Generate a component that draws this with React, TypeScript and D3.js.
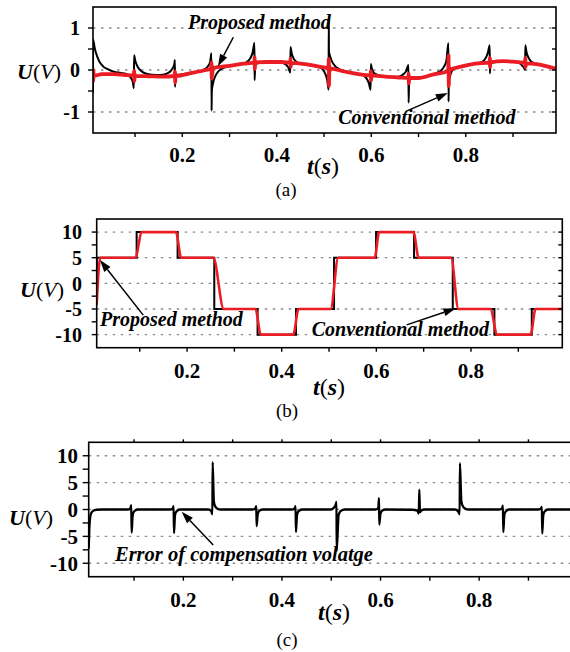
import React from 'react';
import * as d3 from 'd3';

type Pt = [number, number];

const RED = '#ec1c24';
const SERIF = '"Liberation Serif", "Times New Roman", Times, serif';

// shared time axis (s)
const timeTicks = [0.1, 0.2, 0.3, 0.4, 0.5, 0.6, 0.7, 0.8, 0.9];
const timeLabels = [0.2, 0.4, 0.6, 0.8];

// ---------- (a) voltage ripple, conventional vs proposed ----------
const voltTicksA = [-1, -0.5, 0, 0.5, 1];
const voltLabelsA = [-1, 0, 1];
const voltGridA = [-1, 0, 1];

const conventionalA: Pt[] = [
  [0.011, -0.55], [0.0112, 0.72], [0.015, 0.5], [0.02, 0.32], [0.026, 0.17], [0.033, 0.08], [0.042, 0.02], [0.055, -0.04], [0.07, -0.07],
  [0.08, -0.09], [0.087, -0.13], [0.092, -0.2], [0.0955, -0.3], [0.0975, -0.43], [0.098, 0.35], [0.1005, 0.22], [0.104, 0.11], [0.109, 0.02], [0.116, -0.05], [0.128, -0.1], [0.145, -0.12],
  [0.16, -0.11], [0.168, -0.08], [0.175, -0.03], [0.18, 0.05], [0.183, 0.13], [0.1843, 0.24], [0.1846, -0.4], [0.1858, -0.12], [0.195, -0.11], [0.215, -0.08], [0.232, -0.04],
  [0.242, -0.01], [0.25, 0.04], [0.255, 0.1], [0.259, 0.2], [0.2617, 0.4], [0.262, -0.97], [0.2625, -0.5], [0.265, -0.32], [0.269, -0.17], [0.275, -0.05], [0.283, 0.03], [0.295, 0.08], [0.31, 0.11], [0.325, 0.14],
  [0.333, 0.17], [0.34, 0.22], [0.345, 0.3], [0.349, 0.42], [0.3527, 0.64], [0.353, -0.24], [0.3545, 0.14], [0.362, 0.17], [0.38, 0.19], [0.4, 0.19],
  [0.412, 0.17], [0.419, 0.13], [0.424, 0.07], [0.4287, -0.06], [0.429, 0.55], [0.4315, 0.4], [0.435, 0.29], [0.44, 0.21], [0.448, 0.16], [0.465, 0.13], [0.485, 0.08],
  [0.495, 0.04], [0.5, -0.03], [0.504, -0.13], [0.507, -0.26], [0.5097, -0.47], [0.51, 1.2], [0.5104, 0.45], [0.513, 0.32], [0.517, 0.2], [0.523, 0.1], [0.532, 0.02], [0.545, -0.03], [0.565, -0.08],
  [0.577, -0.1], [0.585, -0.14], [0.591, -0.22], [0.595, -0.32], [0.5987, -0.47], [0.599, 0.14], [0.6015, 0.02], [0.605, -0.06], [0.612, -0.11], [0.625, -0.15], [0.645, -0.17],
  [0.655, -0.17], [0.663, -0.14], [0.669, -0.09], [0.674, -0.02], [0.6787, 0.12], [0.679, -0.78], [0.6803, -0.2], [0.69, -0.19], [0.71, -0.17], [0.73, -0.11],
  [0.74, -0.06], [0.748, -0.01], [0.754, 0.08], [0.759, 0.22], [0.7633, 0.64], [0.7636, -0.75], [0.7641, -0.28], [0.767, -0.13], [0.771, -0.02], [0.777, 0.05], [0.79, 0.09], [0.81, 0.13], [0.825, 0.16],
  [0.832, 0.18], [0.838, 0.22], [0.843, 0.3], [0.847, 0.42], [0.8507, 0.59], [0.851, -0.08], [0.8525, 0.17], [0.86, 0.19], [0.88, 0.21], [0.9, 0.2],
  [0.908, 0.19], [0.914, 0.16], [0.919, 0.11], [0.9235, 0.05], [0.9257, 0.0], [0.926, 0.59], [0.9285, 0.43], [0.932, 0.31], [0.937, 0.22], [0.945, 0.16], [0.96, 0.12], [0.975, 0.08], [0.991, 0.03],
];

const proposedA: Pt[] = [
  [0.011, -0.14], [0.0114, -0.26], [0.0118, 0.0], [0.0124, -0.14], [0.03, -0.1], [0.055, -0.1], [0.08, -0.12],
  [0.0975, -0.13], [0.098, -0.02], [0.0986, -0.27], [0.0993, -0.1], [0.1, -0.14],
  [0.13, -0.15], [0.16, -0.16],
  [0.184, -0.14], [0.1845, -0.04], [0.1851, -0.3], [0.1858, -0.12], [0.187, -0.14],
  [0.22, -0.07], [0.25, 0.0],
  [0.2612, 0.03], [0.2617, 0.18], [0.2623, -0.2], [0.2629, 0.1], [0.2636, -0.12], [0.2643, 0.04],
  [0.3, 0.1], [0.33, 0.15],
  [0.3525, 0.18], [0.353, 0.3], [0.3536, 0.02], [0.3543, 0.18],
  [0.38, 0.19], [0.41, 0.19],
  [0.4285, 0.17], [0.429, 0.27], [0.4296, 0.08], [0.4303, 0.17],
  [0.46, 0.14], [0.49, 0.08],
  [0.5095, 0.05], [0.51, 0.26], [0.5106, -0.38], [0.5112, 0.12], [0.5118, -0.05], [0.5125, 0.04],
  [0.54, -0.03], [0.57, -0.09],
  [0.5985, -0.13], [0.599, -0.03], [0.5996, -0.25], [0.6003, -0.13],
  [0.63, -0.16], [0.66, -0.18],
  [0.6785, -0.19], [0.679, -0.09], [0.6796, -0.32], [0.6803, -0.19],
  [0.7, -0.19], [0.73, -0.11],
  [0.763, -0.02], [0.7635, 0.35], [0.7641, -0.38], [0.7647, 0.08], [0.7653, -0.1], [0.766, 0.0],
  [0.79, 0.08], [0.82, 0.15],
  [0.8505, 0.18], [0.851, 0.28], [0.8516, 0.07], [0.8523, 0.18],
  [0.88, 0.21], [0.9, 0.2],
  [0.9255, 0.17], [0.926, 0.28], [0.9266, 0.07], [0.9273, 0.16],
  [0.95, 0.14], [0.97, 0.09], [0.991, 0.03],
];

// ---------- (b) compensation voltage ----------
const voltTicksB = [-10, -7.5, -5, -2.5, 0, 2.5, 5, 7.5, 10];
const voltLabelsB = [-10, -5, 0, 5, 10];
const voltGridB = [-10, -5, 0, 5, 10];
const startLevelB = -4;
const levelsB = [5, 10, 5, -5, -10, -5, 5, 10, 5, -5, -10, -5];
const switchTimesB = [0.0934, 0.18, 0.2575, 0.349, 0.4302, 0.5106, 0.5994, 0.6797, 0.7615, 0.8495, 0.9285];
const proposedLeaveB = [0.0905, 0.1765, 0.2555, 0.3447, 0.4245, 0.5035, 0.5965, 0.6783, 0.758, 0.841, 0.926];
const proposedArriveB = [0.1045, 0.1875, 0.2775, 0.3557, 0.4355, 0.5195, 0.606, 0.6895, 0.7735, 0.8555, 0.9365];

// ---------- (c) error of compensation voltage ----------
const voltTicksC = [-10, -7.5, -5, -2.5, 0, 2.5, 5, 7.5, 10];
const voltLabelsC = [-10, -5, 0, 5, 10];
const voltGridC = [-10, -5, 0, 5, 10];
const errorC: Pt[] = [
  [0.008, -7.3], [0.0093, -3.6], [0.0108, -1.6], [0.013, -0.7], [0.017, -0.25], [0.024, -0.05], [0.035, 0],
  [0.087, 0], [0.092, 0.15], [0.0943, 0.8], [0.0951, -4.3], [0.0971, -1.2], [0.0991, -0.5], [0.1021, -0.2], [0.107, 0],
  [0.173, 0], [0.178, 0.15], [0.1802, 0.6], [0.181, -4.4], [0.183, -1.2], [0.185, -0.5], [0.188, -0.2], [0.193, 0],
  [0.251, 0], [0.2564, -0.3], [0.2589, -0.9], [0.2594, 8.8], [0.2619, 1.5], [0.2644, 0.6], [0.2684, 0.2], [0.2744, 0],
  [0.34, 0], [0.3457, 0.15], [0.3479, 0.6], [0.3487, -3.1], [0.3507, -1.0], [0.3527, -0.4], [0.3557, -0.15], [0.361, 0],
  [0.42, 0], [0.4254, 0.15], [0.4276, 0.6], [0.4284, -4.2], [0.4304, -1.2], [0.4324, -0.5], [0.4354, -0.2], [0.441, 0],
  [0.499, 0], [0.505, 0.3], [0.509, 0.9], [0.5107, 1.4], [0.511, -7.7], [0.515, -1.0], [0.519, -0.3], [0.527, 0],
  [0.59, 0], [0.5954, 0.3], [0.5969, 2.1], [0.5974, -2.8], [0.5999, -0.8], [0.6034, -0.2], [0.61, 0],
  [0.665, -0.05], [0.6746, -0.2], [0.6776, -0.75], [0.6786, 3.7], [0.6801, -0.5], [0.6826, -0.2], [0.689, 0],
  [0.751, 0], [0.757, -0.3], [0.7605, -0.9], [0.761, 8.6], [0.764, 1.5], [0.767, 0.6], [0.771, 0.2], [0.779, 0],
  [0.84, 0], [0.846, 0.15], [0.8482, 0.7], [0.849, -4.2], [0.851, -1.2], [0.853, -0.5], [0.856, -0.2], [0.861, 0],
  [0.919, 0], [0.925, 0.15], [0.9272, 0.5], [0.928, -4.5], [0.93, -1.2], [0.932, -0.5], [0.935, -0.2], [0.94, 0],
  [0.99, 0],
];

type Scale = d3.ScaleLinear<number, number>;

interface AxesProps {
  id: string;
  x: Scale;
  y: Scale;
  yTicks: number[];
  yLabels: number[];
  yGrid: number[];
  yTickLen: number;
  labelRight: number;
  yFontSize: number;
  xLabelBaseline: number;
  xFontSize: number;
  topTicks?: boolean;
  rightTicks?: boolean;
  children?: React.ReactNode;
}

function Axes(p: AxesProps) {
  const [x0, x1] = p.x.range();
  const [yb, yt] = p.y.range();
  return (
    <g>
      <defs>
        <clipPath id={`clip-${p.id}`}>
          <rect x={x0} y={yt} width={x1 - x0} height={yb - yt} />
        </clipPath>
      </defs>
      {p.yGrid.map((v) => (
        <line key={`g${v}`} x1={x0} x2={x1} y1={p.y(v)} y2={p.y(v)}
          stroke="#8c8c8c" strokeWidth={1.3} strokeDasharray="2.5 5.5" />
      ))}
      <g clipPath={`url(#clip-${p.id})`}>{p.children}</g>
      <rect x={x0} y={yt} width={x1 - x0} height={yb - yt} fill="none" stroke="#000" strokeWidth={1.6} />
      {timeTicks.map((t) => (
        <line key={`xb${t}`} x1={p.x(t)} x2={p.x(t)} y1={yb} y2={yb + 4} stroke="#000" strokeWidth={1.4} />
      ))}
      {p.topTicks && timeTicks.map((t) => (
        <line key={`xt${t}`} x1={p.x(t)} x2={p.x(t)} y1={yt} y2={yt - 3} stroke="#000" strokeWidth={1.4} />
      ))}
      {p.yTicks.map((v) => (
        <line key={`yl${v}`} x1={x0 - p.yTickLen} x2={x0} y1={p.y(v)} y2={p.y(v)} stroke="#000" strokeWidth={1.4} />
      ))}
      {p.rightTicks && p.yTicks.map((v) => (
        <line key={`yr${v}`} x1={x1 - 4} x2={x1} y1={p.y(v)} y2={p.y(v)} stroke="#000" strokeWidth={1.4} />
      ))}
      {p.yLabels.map((v) => (
        <text key={`ly${v}`} x={p.labelRight} y={p.y(v)} dy="0.36em" textAnchor="end"
          fontFamily={SERIF} fontWeight="bold" fontSize={p.yFontSize}>{String(v)}</text>
      ))}
      {timeLabels.map((t) => (
        <text key={`lx${t}`} x={p.x(t)} y={p.xLabelBaseline} textAnchor="middle"
          fontFamily={SERIF} fontWeight="bold" fontSize={p.xFontSize}>{t.toFixed(1)}</text>
      ))}
    </g>
  );
}

function VoltLabel({ x, y }: { x: number; y: number }) {
  return (
    <text x={x} y={y} fontFamily={SERIF} fontSize={22}>
      <tspan fontWeight="bold" fontStyle="italic">U</tspan>
      <tspan>(</tspan>
      <tspan fontStyle="italic">V</tspan>
      <tspan>)</tspan>
    </text>
  );
}

function TimeLabel({ x, y }: { x: number; y: number }) {
  return (
    <text x={x} y={y} fontFamily={SERIF} fontSize={24}>
      <tspan fontWeight="bold" fontStyle="italic">t</tspan>
      <tspan>(</tspan>
      <tspan fontWeight="bold" fontStyle="italic">s</tspan>
      <tspan>)</tspan>
    </text>
  );
}

function Callout({ text, at, from, to, size }: { text: string; at: Pt; from: Pt; to: Pt; size: number }) {
  const [x1, y1] = from;
  const [x2, y2] = to;
  const ang = Math.atan2(y2 - y1, x2 - x1);
  const L = 12;
  const W = 4;
  const bx = x2 - L * Math.cos(ang);
  const by = y2 - L * Math.sin(ang);
  const head = `${x2},${y2} ${bx + W * Math.sin(ang)},${by - W * Math.cos(ang)} ${bx - W * Math.sin(ang)},${by + W * Math.cos(ang)}`;
  return (
    <g>
      <line x1={x1} y1={y1} x2={bx} y2={by} stroke="#000" strokeWidth={1.5} />
      <polygon points={head} fill="#000" />
      <text x={at[0]} y={at[1]} fontFamily={SERIF} fontWeight="bold" fontStyle="italic" fontSize={size}>{text}</text>
    </g>
  );
}

export default function App() {
  // (a)
  const xA = d3.scaleLinear().domain([0.011, 0.991]).range([93, 556]);
  const yA = d3.scaleLinear().domain([-1.5, 1.5]).range([133, 7]);
  const lineA = d3.line<Pt>().x((d) => xA(d[0])).y((d) => yA(d[1])).curve(d3.curveMonotoneX);

  // (b)
  const xB = d3.scaleLinear().domain([0.009, 0.993]).range([96.7, 562.3]);
  const yB = d3.scaleLinear().domain([-12.55, 12.55]).range([347.7, 219]);
  const convB: Pt[] = [[0.009, startLevelB], [0.0092, levelsB[0]],
    ...switchTimesB.map((t, i) => [t, levelsB[i + 1]] as Pt), [0.993, levelsB[levelsB.length - 1]]];
  const stepB = d3.line<Pt>().x((d) => xB(d[0])).y((d) => yB(d[1])).curve(d3.curveStepAfter);
  const propB: Pt[] = [[0.009, startLevelB], [0.0165, levelsB[0]]];
  proposedLeaveB.forEach((t, i) => {
    propB.push([t, levelsB[i]]);
    propB.push([proposedArriveB[i], levelsB[i + 1]]);
  });
  propB.push([0.993, levelsB[levelsB.length - 1]]);
  const smoothB = d3.line<Pt>().x((d) => xB(d[0])).y((d) => yB(d[1])).curve(d3.curveMonotoneX);

  // (c)
  const xC = d3.scaleLinear().domain([0.008, 0.99]).range([88.7, 572.8]);
  const yC = d3.scaleLinear().domain([-12.5, 12.5]).range([576.7, 442.3]);
  const lineC = d3.line<Pt>().x((d) => xC(d[0])).y((d) => yC(d[1])).curve(d3.curveMonotoneX);

  const pa = (x: Scale, y: Scale, t: number, v: number): Pt => [x(t), y(v)];

  return (
    <svg width={570} height={652} style={{ position: 'absolute', left: 0, top: 0, background: '#fff' }}>
      <rect x={0} y={0} width={570} height={652} fill="#fff" />

      {/* (a) */}
      <Axes id="a" x={xA} y={yA} yTicks={voltTicksA} yLabels={voltLabelsA} yGrid={voltGridA}
        yTickLen={5} labelRight={80} yFontSize={20} xLabelBaseline={161.5} xFontSize={21} rightTicks>
        <path d={lineA(conventionalA) ?? ''} fill="none" stroke="#000" strokeWidth={2} />
        <path d={lineA(proposedA) ?? ''} fill="none" stroke={RED} strokeWidth={3.8} strokeLinejoin="round" />
      </Axes>
      <VoltLabel x={17} y={79} />
      <TimeLabel x={307} y={174} />
      <text x={286} y={196} textAnchor="middle" fontFamily={SERIF} fontSize={19}>(a)</text>
      <Callout text="Proposed method" size={20}
        at={pa(xA, yA, 0.212, 0.97)} from={pa(xA, yA, 0.308, 0.78)} to={pa(xA, yA, 0.2756, 0.09)} />
      <Callout text="Conventional method" size={20}
        at={pa(xA, yA, 0.53, -1.28)} from={pa(xA, yA, 0.672, -0.99)} to={pa(xA, yA, 0.762, -0.55)} />

      {/* (b) */}
      <Axes id="b" x={xB} y={yB} yTicks={voltTicksB} yLabels={voltLabelsB} yGrid={voltGridB}
        yTickLen={5} labelRight={82} yFontSize={20} xLabelBaseline={378} xFontSize={21} rightTicks>
        <path d={stepB(convB) ?? ''} fill="none" stroke="#000" strokeWidth={2} />
        <path d={smoothB(propB) ?? ''} fill="none" stroke={RED} strokeWidth={2.6} />
      </Axes>
      <VoltLabel x={20} y={297} />
      <TimeLabel x={313} y={395} />
      <text x={287} y={417} textAnchor="middle" fontFamily={SERIF} fontSize={19}>(b)</text>
      <Callout text="Proposed method" size={20}
        at={pa(xB, yB, 0.016, -8.33)} from={pa(xB, yB, 0.1074, -6.2)} to={pa(xB, yB, 0.0159, 4.55)} />
      <Callout text="Conventional method" size={20}
        at={pa(xB, yB, 0.4634, -10.3)} from={pa(xB, yB, 0.664, -8.1)} to={pa(xB, yB, 0.7674, -4.9)} />

      {/* (c) */}
      <Axes id="c" x={xC} y={yC} yTicks={voltTicksC} yLabels={voltLabelsC} yGrid={voltGridC}
        yTickLen={6} labelRight={78} yFontSize={21} xLabelBaseline={606.5} xFontSize={21} topTicks>
        <path d={lineC(errorC) ?? ''} fill="none" stroke="#000" strokeWidth={2.3} />
      </Axes>
      <VoltLabel x={9} y={525} />
      <TimeLabel x={318} y={620} />
      <text x={287} y={646} textAnchor="middle" fontFamily={SERIF} fontSize={19}>(c)</text>
      <Callout text="Error of compensation volatge" size={20.5}
        at={pa(xC, yC, 0.0613, -9.58)} from={pa(xC, yC, 0.2606, -6.6)} to={pa(xC, yC, 0.1966, -0.41)} />
    </svg>
  );
}
